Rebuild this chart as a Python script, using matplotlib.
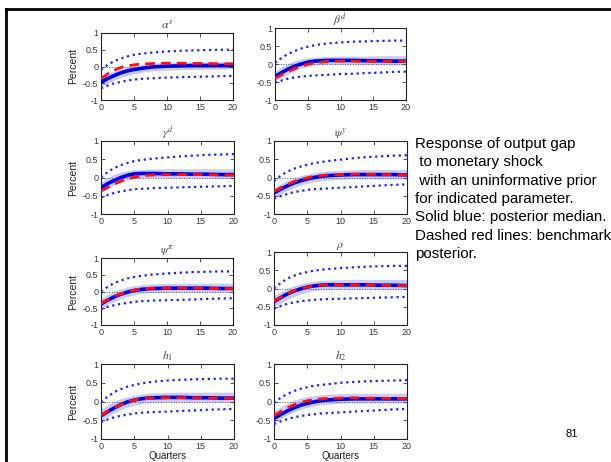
import matplotlib
matplotlib.use("Agg")
import matplotlib.pyplot as plt
from matplotlib.lines import Line2D

plt.rcParams['font.family'] = ['Liberation Sans', 'DejaVu Sans']
plt.rcParams['mathtext.fontset'] = 'stix'

quarters = [0, 1, 2, 3, 4, 5, 6, 7, 8, 10, 12, 14, 16, 18, 20]
panels = ['alpha_s', 'beta_d', 'gamma_d', 'psi_y', 'psi_pi', 'rho', 'h1', 'h2']
titles = [r'$\alpha^s$', r'$\beta^d$', r'$\gamma^d$', r'$\psi^y$',
          r'$\psi^\pi$', r'$\rho$', r'$h_1$', r'$h_2$']

median = {
    'alpha_s': [-0.47, -0.36, -0.27, -0.19, -0.13, -0.09, -0.06, -0.03, -0.01, 0.01, 0.02, 0.03, 0.03, 0.03, 0.03],
    'beta_d':  [-0.35, -0.24, -0.14, -0.06, 0.00, 0.05, 0.08, 0.09, 0.10, 0.10, 0.10, 0.09, 0.09, 0.08, 0.08],
    'gamma_d': [-0.28, -0.17, -0.08, 0.00, 0.06, 0.10, 0.11, 0.11, 0.11, 0.10, 0.10, 0.09, 0.09, 0.08, 0.08],
    'psi_y':   [-0.42, -0.32, -0.23, -0.15, -0.09, -0.04, 0.00, 0.03, 0.05, 0.07, 0.08, 0.08, 0.08, 0.08, 0.07],
    'psi_pi':  [-0.37, -0.26, -0.16, -0.08, -0.02, 0.03, 0.06, 0.08, 0.09, 0.10, 0.10, 0.10, 0.10, 0.09, 0.09],
    'rho':     [-0.36, -0.25, -0.15, -0.07, -0.01, 0.04, 0.07, 0.09, 0.10, 0.10, 0.10, 0.10, 0.09, 0.09, 0.08],
    'h1':      [-0.38, -0.27, -0.17, -0.08, -0.01, 0.04, 0.07, 0.09, 0.10, 0.11, 0.11, 0.10, 0.10, 0.09, 0.09],
    'h2':      [-0.45, -0.35, -0.25, -0.17, -0.10, -0.05, -0.01, 0.02, 0.04, 0.06, 0.07, 0.07, 0.07, 0.07, 0.07],
}
benchmark = {
    'alpha_s': [-0.36, -0.22, -0.11, -0.03, 0.02, 0.05, 0.07, 0.08, 0.09, 0.10, 0.10, 0.09, 0.09, 0.08, 0.08],
    'beta_d':  [-0.40, -0.30, -0.21, -0.13, -0.06, -0.01, 0.03, 0.05, 0.07, 0.08, 0.08, 0.08, 0.08, 0.07, 0.07],
    'gamma_d': [-0.37, -0.27, -0.18, -0.10, -0.04, 0.01, 0.04, 0.06, 0.07, 0.08, 0.08, 0.08, 0.08, 0.07, 0.07],
    'psi_y':   [-0.38, -0.28, -0.19, -0.11, -0.05, -0.01, 0.03, 0.05, 0.07, 0.08, 0.09, 0.09, 0.08, 0.08, 0.07],
    'psi_pi':  [-0.36, -0.25, -0.15, -0.07, -0.01, 0.04, 0.07, 0.09, 0.10, 0.10, 0.10, 0.10, 0.09, 0.09, 0.09],
    'rho':     [-0.35, -0.24, -0.14, -0.06, 0.00, 0.04, 0.07, 0.09, 0.10, 0.10, 0.10, 0.10, 0.09, 0.08, 0.08],
    'h1':      [-0.37, -0.26, -0.16, -0.08, -0.01, 0.04, 0.07, 0.08, 0.09, 0.10, 0.10, 0.10, 0.09, 0.09, 0.08],
    'h2':      [-0.38, -0.27, -0.17, -0.09, -0.03, 0.02, 0.05, 0.07, 0.08, 0.09, 0.10, 0.09, 0.09, 0.08, 0.08],
}
upper = {
    'alpha_s': [-0.10, 0.05, 0.16, 0.24, 0.30, 0.35, 0.38, 0.40, 0.42, 0.45, 0.47, 0.48, 0.49, 0.50, 0.50],
    'beta_d':  [0.03, 0.17, 0.28, 0.36, 0.43, 0.48, 0.52, 0.55, 0.57, 0.60, 0.62, 0.63, 0.64, 0.65, 0.65],
    'gamma_d': [0.00, 0.15, 0.26, 0.34, 0.40, 0.45, 0.48, 0.50, 0.52, 0.55, 0.58, 0.60, 0.62, 0.63, 0.64],
    'psi_y':   [-0.10, 0.05, 0.16, 0.24, 0.30, 0.35, 0.39, 0.42, 0.45, 0.49, 0.53, 0.56, 0.58, 0.60, 0.61],
    'psi_pi':  [0.00, 0.14, 0.25, 0.33, 0.39, 0.43, 0.46, 0.49, 0.51, 0.54, 0.56, 0.58, 0.59, 0.60, 0.60],
    'rho':     [0.00, 0.15, 0.27, 0.35, 0.41, 0.45, 0.49, 0.51, 0.53, 0.56, 0.58, 0.60, 0.61, 0.62, 0.62],
    'h1':      [-0.02, 0.13, 0.25, 0.33, 0.40, 0.44, 0.48, 0.51, 0.53, 0.56, 0.58, 0.59, 0.60, 0.61, 0.61],
    'h2':      [-0.04, 0.10, 0.20, 0.28, 0.34, 0.38, 0.42, 0.44, 0.46, 0.50, 0.52, 0.54, 0.55, 0.56, 0.57],
}
lower = {
    'alpha_s': [-0.65, -0.57, -0.50, -0.46, -0.42, -0.39, -0.37, -0.36, -0.35, -0.33, -0.32, -0.31, -0.30, -0.29, -0.28],
    'beta_d':  [-0.52, -0.46, -0.41, -0.37, -0.35, -0.33, -0.32, -0.31, -0.30, -0.28, -0.27, -0.25, -0.24, -0.22, -0.21],
    'gamma_d': [-0.55, -0.48, -0.42, -0.38, -0.35, -0.32, -0.31, -0.30, -0.29, -0.28, -0.27, -0.26, -0.25, -0.24, -0.23],
    'psi_y':   [-0.58, -0.51, -0.45, -0.40, -0.37, -0.34, -0.32, -0.31, -0.30, -0.28, -0.26, -0.24, -0.22, -0.20, -0.19],
    'psi_pi':  [-0.53, -0.46, -0.41, -0.37, -0.34, -0.31, -0.29, -0.28, -0.27, -0.26, -0.25, -0.24, -0.22, -0.21, -0.20],
    'rho':     [-0.55, -0.48, -0.42, -0.38, -0.35, -0.33, -0.31, -0.30, -0.29, -0.28, -0.27, -0.26, -0.25, -0.24, -0.23],
    'h1':      [-0.55, -0.48, -0.42, -0.38, -0.35, -0.32, -0.30, -0.29, -0.28, -0.27, -0.25, -0.24, -0.22, -0.21, -0.20],
    'h2':      [-0.60, -0.53, -0.47, -0.42, -0.39, -0.36, -0.34, -0.32, -0.31, -0.29, -0.27, -0.25, -0.23, -0.21, -0.20],
}
band_low = {
    'alpha_s': [-0.60, -0.50, -0.41, -0.33, -0.27, -0.22, -0.18, -0.15, -0.13, -0.11, -0.10, -0.09, -0.08, -0.08, -0.07],
    'beta_d':  [-0.45, -0.36, -0.27, -0.19, -0.12, -0.07, -0.04, -0.02, -0.01, -0.01, -0.01, -0.02, -0.02, -0.03, -0.03],
    'gamma_d': [-0.40, -0.30, -0.21, -0.13, -0.07, -0.03, -0.01, 0.00, 0.00, -0.01, -0.01, -0.02, -0.02, -0.03, -0.03],
    'psi_y':   [-0.55, -0.45, -0.36, -0.28, -0.21, -0.16, -0.12, -0.09, -0.07, -0.05, -0.04, -0.04, -0.04, -0.04, -0.04],
    'psi_pi':  [-0.50, -0.40, -0.30, -0.22, -0.15, -0.10, -0.06, -0.04, -0.03, -0.02, -0.02, -0.02, -0.02, -0.02, -0.02],
    'rho':     [-0.50, -0.40, -0.30, -0.22, -0.15, -0.10, -0.06, -0.04, -0.03, -0.02, -0.02, -0.02, -0.03, -0.03, -0.03],
    'h1':      [-0.50, -0.40, -0.30, -0.22, -0.15, -0.10, -0.06, -0.04, -0.03, -0.02, -0.02, -0.02, -0.02, -0.03, -0.03],
    'h2':      [-0.55, -0.45, -0.36, -0.28, -0.21, -0.16, -0.12, -0.09, -0.07, -0.05, -0.04, -0.04, -0.04, -0.04, -0.04],
}
band_high = {
    'alpha_s': [-0.33, -0.22, -0.13, -0.06, -0.01, 0.03, 0.06, 0.08, 0.10, 0.12, 0.13, 0.14, 0.14, 0.14, 0.14],
    'beta_d':  [-0.20, -0.08, 0.02, 0.09, 0.14, 0.17, 0.19, 0.20, 0.21, 0.22, 0.22, 0.22, 0.23, 0.23, 0.23],
    'gamma_d': [-0.12, 0.00, 0.09, 0.15, 0.19, 0.21, 0.22, 0.23, 0.23, 0.24, 0.24, 0.24, 0.24, 0.24, 0.24],
    'psi_y':   [-0.28, -0.17, -0.08, -0.01, 0.05, 0.09, 0.13, 0.16, 0.18, 0.20, 0.21, 0.22, 0.22, 0.22, 0.22],
    'psi_pi':  [-0.20, -0.09, 0.01, 0.08, 0.13, 0.17, 0.20, 0.22, 0.23, 0.24, 0.25, 0.25, 0.25, 0.25, 0.25],
    'rho':     [-0.20, -0.09, 0.01, 0.08, 0.13, 0.17, 0.20, 0.22, 0.23, 0.24, 0.25, 0.25, 0.25, 0.25, 0.25],
    'h1':      [-0.20, -0.09, 0.01, 0.08, 0.13, 0.17, 0.20, 0.22, 0.23, 0.24, 0.25, 0.25, 0.25, 0.25, 0.25],
    'h2':      [-0.25, -0.14, -0.05, 0.03, 0.09, 0.13, 0.16, 0.18, 0.20, 0.21, 0.22, 0.22, 0.22, 0.22, 0.22],
}

note_lines = ["Response of output gap", " to monetary shock", " with an uninformative prior",
              "for indicated parameter.", "Solid blue: posterior median.",
              "Dashed red lines: benchmark", "posterior."]
page_number = "81"

W, H = 611, 462
fig = plt.figure(figsize=(W / 100, H / 100), dpi=100)

# axes boxes in pixels: (left, top, right, bottom)
boxes = [(101, 33, 233, 100), (275, 28, 406, 100),
         (101, 141, 234, 214), (274, 141, 407, 214),
         (101, 258, 233, 325), (274, 252, 407, 325),
         (101, 364, 234, 439), (274, 364, 407, 439)]

tick_col = '#3a3a3a'
for i, (key, title) in enumerate(zip(panels, titles)):
    l, t, r, b = boxes[i]
    ax = fig.add_axes([l / W, 1 - b / H, (r - l) / W, (b - t) / H])
    ax.fill_between(quarters, band_low[key], band_high[key], color='#c8cbf8', lw=0, zorder=1)
    ax.axhline(0, color='#555555', ls=':', lw=0.7, zorder=2)
    ax.plot(quarters, upper[key], color='#1f1fff', ls=':', lw=1.6, zorder=3)
    ax.plot(quarters, lower[key], color='#1f1fff', ls=':', lw=1.6, zorder=3)
    ax.plot(quarters, median[key], color='#0000e6', lw=2.6, zorder=4)
    ax.plot(quarters, benchmark[key], color='#ff1010', lw=2.0, dashes=(3.5, 2.2), zorder=5)
    ax.set_xlim(0, 20)
    ax.set_ylim(-1, 1)
    ax.set_xticks([0, 5, 10, 15, 20])
    ax.set_yticks([-1, -0.5, 0, 0.5, 1])
    ax.set_yticklabels(['-1', '-0.5', '0', '0.5', '1'])
    ax.tick_params(direction='in', length=3, width=0.6, labelsize=6.5,
                   colors=tick_col, pad=2, top=True, right=True)
    for s in ax.spines.values():
        s.set_linewidth(0.8)
        s.set_color('#222222')
    ax.set_title(title, fontsize=8.5, color='#444444', pad=3)
    if i % 2 == 0:
        ax.set_ylabel('Percent', fontsize=7.5, color='#222222', labelpad=3)
    if i >= 6:
        ax.set_xlabel('Quarters', fontsize=7, color='#222222', labelpad=0.5)

# slide border lines
fig.add_artist(Line2D([6 / W, 1], [1 - 8.5 / H, 1 - 8.5 / H], color='black', lw=2.0,
                      transform=fig.transFigure))
fig.add_artist(Line2D([6 / W, 6 / W], [0, 1 - 8.5 / H], color='black', lw=2.0,
                      transform=fig.transFigure))

y0 = 144
for k, line in enumerate(note_lines):
    fig.text(415 / W, 1 - (y0 + k * 18.3) / H, line, fontsize=10.9, color='black',
             va='center', ha='left')
fig.text(572 / W, 1 - 434 / H, page_number, fontsize=8, color='black', va='center', ha='center')

fig.savefig('out.png', dpi=100)
